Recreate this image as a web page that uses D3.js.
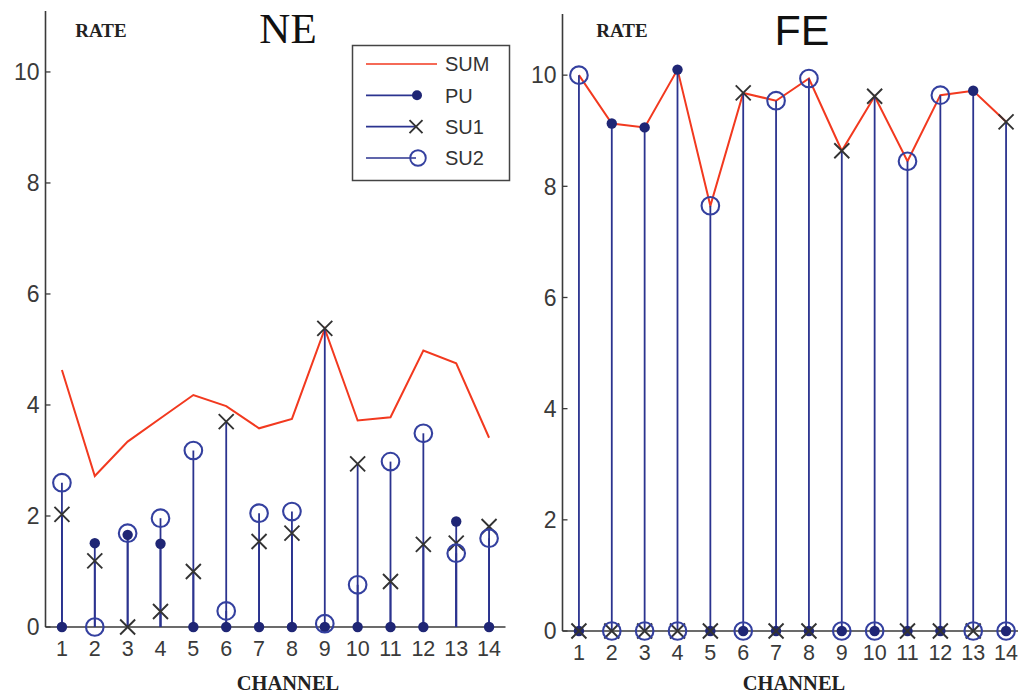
<!DOCTYPE html>
<html>
<head>
<meta charset="utf-8">
<script src="https://cdn.jsdelivr.net/npm/d3@7"></script>
<style>
  html, body { margin: 0; padding: 0; background: #fff; }
  svg { display: block; }
</style>
</head>
<body>
<svg id="chart" width="1018" height="694"></svg>
<script>
// ---------- data ----------
const channels = [1,2,3,4,5,6,7,8,9,10,11,12,13,14];
const yTicks = [0,2,4,6,8,10];

// NE panel
const neSUM = [4.63,2.72,3.34,3.76,4.18,3.98,3.58,3.75,5.37,3.72,3.78,4.98,4.75,3.41];
const nePU  = [0,1.51,1.66,1.50,0,0,0,0,0,0,0,0,1.90,0];
const neSU1 = [2.03,1.19,0,0.28,1.00,3.70,1.54,1.69,5.38,2.94,0.82,1.49,1.51,1.81];
const neSU2 = [2.60,0,1.69,1.96,3.18,0.29,2.05,2.08,0.06,0.76,2.98,3.49,1.33,1.60];

// FE panel
const feSUM = [10.0,9.13,9.06,10.1,7.65,9.68,9.54,9.94,8.64,9.62,8.45,9.64,9.72,9.16];
const fePU  = [0,9.13,9.06,10.1,0,0,0,0,0,0,0,0,9.72,0];
const feSU1 = [0,0,0,0,0,9.68,0,0,8.64,9.62,0,0,0,9.16];
const feSU2 = [10.0,0,0,0,7.65,0,9.54,9.94,0,0,8.45,9.64,0,0];

const legendLabels = ["SUM","PU","SU1","SU2"];

// ---------- style ----------
const RED = "#f2391f";
const NAVY = "#2b338f";
const DOT = "#1f2675";
const XCOL = "#333333";
const AXIS = "#3a3a3a";

const svg = d3.select("#chart");
svg.append("rect").attr("width",1018).attr("height",694).attr("fill","#fff");

function xMark(g, x, y, s) {
  g.append("path")
    .attr("d", `M${x-s},${y-s}L${x+s},${y+s}M${x-s},${y+s}L${x+s},${y-s}`)
    .attr("stroke", XCOL).attr("stroke-width", 1.9).attr("fill","none");
}

function drawPanel(cfg) {
  const g = svg.append("g");
  const x = d3.scaleLinear().domain([0.5, 14.5]).range([cfg.x0, cfg.x1]);
  const y = d3.scaleLinear().domain([0, 11.1]).range([cfg.y0, cfg.yTop]);

  // axes lines
  g.append("line").attr("x1", cfg.x0).attr("x2", cfg.x0)
    .attr("y1", y(11.1)).attr("y2", y(0))
    .attr("stroke", AXIS).attr("stroke-width", 1.6);
  g.append("line").attr("x1", cfg.x0).attr("x2", cfg.x1)
    .attr("y1", y(0)).attr("y2", y(0))
    .attr("stroke", AXIS).attr("stroke-width", 1.6);

  // y ticks (inward)
  yTicks.forEach(t => {
    g.append("line").attr("x1", cfg.x0).attr("x2", cfg.x0 + 5)
      .attr("y1", y(t)).attr("y2", y(t)).attr("stroke", AXIS).attr("stroke-width", 1.3);
    g.append("text").attr("x", cfg.x0 - 6).attr("y", y(t)).attr("dy", "0.36em")
      .attr("text-anchor", "end")
      .attr("font-family", "Liberation Sans, Arial, sans-serif")
      .attr("font-size", 23).attr("fill", "#3a3a3a").text(t);
  });
  // x tick labels
  channels.forEach(c => {
    g.append("text").attr("x", x(c)).attr("y", y(0) + 29)
      .attr("text-anchor", "middle")
      .attr("font-family", "Liberation Sans, Arial, sans-serif")
      .attr("font-size", 21.5).attr("fill", "#3a3a3a").text(c);
  });

  // SUM line
  g.append("path").datum(cfg.sum)
    .attr("d", d3.line().x((d,i) => x(channels[i])).y(d => y(d)))
    .attr("fill","none").attr("stroke", RED).attr("stroke-width", 2);

  // stems
  [cfg.pu, cfg.su1, cfg.su2].forEach(arr => {
    arr.forEach((v,i) => {
      if (v > 0) {
        g.append("line").attr("x1", x(channels[i])).attr("x2", x(channels[i]))
          .attr("y1", y(0)).attr("y2", y(v))
          .attr("stroke", NAVY).attr("stroke-width", 1.8);
      }
    });
  });

  // markers
  cfg.pu.forEach((v,i) => {
    g.append("circle").attr("cx", x(channels[i])).attr("cy", y(v)).attr("r", 5.2).attr("fill", DOT);
  });
  cfg.su1.forEach((v,i) => xMark(g, x(channels[i]), y(v), 7.5));
  cfg.su2.forEach((v,i) => {
    g.append("circle").attr("cx", x(channels[i])).attr("cy", y(v)).attr("r", 8.8)
      .attr("fill","none").attr("stroke", "#34409f").attr("stroke-width", 2.1);
  });

  // labels
  g.append("text").attr("x", cfg.rateX).attr("y", 37).attr("text-anchor","middle")
    .attr("font-family","Liberation Serif, Times New Roman, serif").attr("font-weight","bold")
    .attr("font-size", 19).attr("fill","#222").text("RATE");
  g.append("text").attr("x", cfg.chanX).attr("y", 690).attr("text-anchor","middle")
    .attr("font-family","Liberation Serif, Times New Roman, serif").attr("font-weight","bold")
    .attr("font-size", 20.5).attr("fill","#222").text("CHANNEL");
  g.append("text").attr("x", cfg.titleX).attr("y", cfg.titleY).attr("text-anchor","middle")
    .attr("font-family", cfg.titleFont)
    .attr("font-size", 43).attr("fill","#111").text(cfg.title);
  return {x, y};
}

drawPanel({x0:45.5, x1:505.5, y0:627, yTop:10.9, sum:neSUM, pu:nePU, su1:neSU1, su2:neSU2,
  rateX:101, chanX:288, titleX:288, titleY:43, title:"NE",
  titleFont:"Liberation Serif, Times New Roman, serif"});
drawPanel({x0:562.5, x1:1022.5, y0:631, yTop:14, sum:feSUM, pu:fePU, su1:feSU1, su2:feSU2,
  rateX:622, chanX:794, titleX:802, titleY:45, title:"FE",
  titleFont:"Liberation Sans, Arial, sans-serif"});

// legend
const lg = svg.append("g");
lg.append("rect").attr("x", 352.5).attr("y", 45.5).attr("width", 157).attr("height", 135)
  .attr("fill","#fff").attr("stroke","#444").attr("stroke-width",1.5);
const rowY = d3.scalePoint().domain(legendLabels).range([64, 158]);
legendLabels.forEach((lab, k) => {
  const yy = rowY(lab);
  lg.append("line").attr("x1", 366).attr("x2", lab === "SUM" ? 437 : 416)
    .attr("y1", yy).attr("y2", yy)
    .attr("stroke", lab === "SUM" ? RED : NAVY).attr("stroke-width", 1.6);
  if (lab === "PU") lg.append("circle").attr("cx", 417).attr("cy", yy).attr("r", 5).attr("fill", DOT);
  if (lab === "SU1") xMark(lg, 416, yy, 6.5);
  if (lab === "SU2") lg.append("circle").attr("cx", 418).attr("cy", yy).attr("r", 7.8)
      .attr("fill","none").attr("stroke","#34409f").attr("stroke-width",1.9);
  lg.append("text").attr("x", 445).attr("y", yy).attr("dy","0.36em")
    .attr("font-family","Liberation Sans, Arial, sans-serif").attr("font-size", 20)
    .attr("fill","#333").text(lab);
});
</script>
</body>
</html>
